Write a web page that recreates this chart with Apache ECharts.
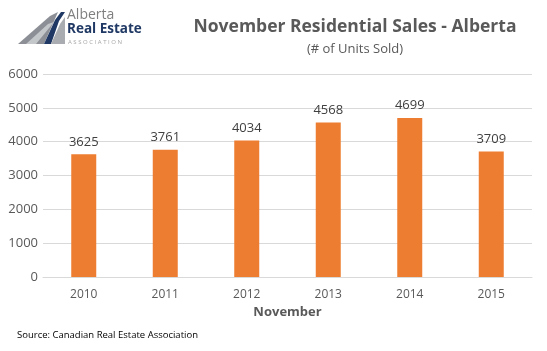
<!DOCTYPE html>
<html>
<head>
<meta charset="utf-8">
<script src="https://cdn.jsdelivr.net/npm/echarts@6/dist/echarts.min.js"></script>
<style>
  html, body { margin: 0; padding: 0; background: #fff; }
  #chart { width: 547px; height: 351px; }
</style>
</head>
<body>
<div id="chart"></div>
<script>
var years = ['2010', '2011', '2012', '2013', '2014', '2015'];
var unitsSold = [3625, 3761, 4034, 4568, 4699, 3709];
var yTicks = [0, 1000, 2000, 3000, 4000, 5000, 6000];

var font = 'Open Sans';
var chart = echarts.init(document.getElementById('chart'));

var option = {
    backgroundColor: '#fff',
    animation: false,
    textStyle: { fontFamily: font },
    title: [{
        text: 'November Residential Sales - Alberta',
        left: 350, top: 13, textAlign: 'center',
        textStyle: { fontSize: 17.5, fontWeight: 'bold', color: '#595959', fontFamily: font }
    }, {
        text: '(# of Units Sold)',
        left: 350, top: 38, textAlign: 'center',
        textStyle: { fontSize: 13, fontWeight: 'normal', color: '#595959', fontFamily: font }
    }],
    grid: { left: 43, right: 15, top: 74, bottom: 74 },
    xAxis: {
        type: 'category',
        data: years,
        name: 'November',
        nameLocation: 'middle',
        nameGap: 29,
        nameTextStyle: { fontSize: 13, fontWeight: 'bold', color: '#595959' },
        axisLine: { show: true, lineStyle: { color: '#d9d9d9' } },
        axisTick: { show: false },
        axisLabel: { color: '#595959', fontSize: 12, margin: 12 }
    },
    yAxis: {
        type: 'value',
        min: yTicks[0],
        max: yTicks[yTicks.length - 1],
        interval: 1000,
        axisLine: { show: false },
        axisTick: { show: false },
        axisLabel: { color: '#595959', fontSize: 13, margin: 5, formatter: function (v) { return String(v); } },
        splitLine: { lineStyle: { color: '#d9d9d9' } }
    },
    series: [{
        type: 'bar',
        data: unitsSold,
        barWidth: 25,
        itemStyle: { color: '#ed7d31' },
        label: {
            show: true, position: 'top', distance: 6,
            color: '#404040', fontSize: 13
        }
    }],
    graphic: [
        // logo mark
        { type: 'polygon', shape: { points: [[18, 44], [50, 16], [58, 12], [44, 44]] },
          style: { fill: '#8c9096' } },
        { type: 'polygon', shape: { points: [[26, 44], [48, 24], [54, 22], [36, 44]] },
          style: { fill: '#c4c7ca' } },
        { type: 'polygon', shape: { points: [[44, 44], [55, 20], [61, 12], [65, 12], [59, 21], [51, 44]] },
          style: { fill: '#1f3864' } },
        { type: 'polygon', shape: { points: [[51, 44], [60, 24], [65, 17], [65, 44]] },
          style: { fill: '#a9adb1' } },
        { type: 'text', left: 67, top: 8,
          style: { text: 'Alberta', fill: '#7f7f7f', fontSize: 14, fontFamily: font } },
        { type: 'text', left: 67, top: 22,
          style: { text: 'Real Estate', fill: '#1f3864', fontSize: 13.5, fontWeight: 'bold', fontFamily: font } },
        { type: 'text', left: 68, top: 39,
          style: { text: 'A S S O C I A T I O N', fill: '#a6a6a6', fontSize: 6, fontFamily: font } },
        // source note
        { type: 'text', left: 17, top: 330,
          style: { text: 'Source: Canadian Real Estate Association', fill: '#000', fontSize: 9.5, fontFamily: font } }
    ]
};

chart.setOption(option);
</script>
</body>
</html>
